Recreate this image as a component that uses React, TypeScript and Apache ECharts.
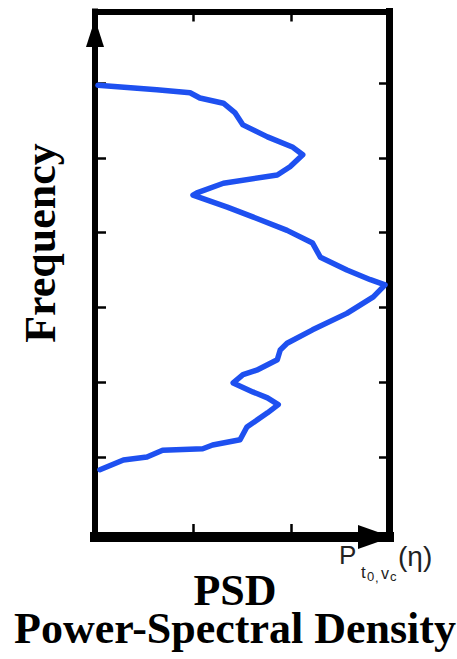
import React, { useEffect, useRef } from "react";
import * as echarts from "echarts";

// PSD (horizontal) and frequency (vertical) samples, top to bottom
const psdValues = [
  0.03, 0.63, 0.97, 1.07, 1.31, 1.43, 1.51, 1.76, 2.02, 2.12, 1.99, 1.86, 1.31, 1.04, 1.0,
  1.35, 1.61, 1.96, 2.22, 2.3, 2.57, 2.81, 2.96, 2.84, 2.57, 2.22, 1.96, 1.89, 1.86, 1.65,
  1.51, 1.41, 1.61, 1.76, 1.87, 1.76, 1.55, 1.48, 1.2, 1.1, 0.69, 0.53, 0.29, 0.05,
];
const freqValues = [
  5.97, 5.91, 5.87, 5.8, 5.73, 5.6, 5.44, 5.28, 5.14, 5.04, 4.88, 4.77, 4.66, 4.53, 4.5,
  4.34, 4.21, 4.03, 3.86, 3.67, 3.5, 3.37, 3.3, 3.14, 2.92, 2.7, 2.52, 2.43, 2.3, 2.16,
  2.1, 1.99, 1.87, 1.79, 1.7, 1.59, 1.4, 1.23, 1.16, 1.11, 1.09, 1.0, 0.96, 0.83,
];
const freqTickValues = [1, 2, 3, 4, 5, 6];
const psdTickInterval = 1;
const psdRange = [0, 3];
const freqRange = [-0.07, 6.956];

const yLabel = "Frequency";
const xTitle = "PSD";
const xSubtitle = "Power-Spectral Density";

export default function App() {
  const ref = useRef<HTMLDivElement>(null);
  useEffect(() => {
    if (!ref.current) return;
    const chart = echarts.init(ref.current, undefined, { renderer: "svg" });
    const black = "#000";
    const serif = "'Liberation Serif', 'Times New Roman', serif";
    const sans = "'Liberation Sans', Arial, sans-serif";
    const mkTick = (length: number) => ({ show: true, inside: true, length, lineStyle: { color: black, width: 2.5 } });
    const xBase = {
      type: "value" as const,
      min: psdRange[0],
      max: psdRange[1],
      interval: psdTickInterval,
      axisLabel: { show: false },
      splitLine: { show: false },
    };
    const yBase = {
      type: "value" as const,
      min: freqRange[0],
      max: freqRange[1],
      axisLabel: { show: false },
      splitLine: { show: false },
    };
    const data = psdValues.map((x, i) => [x, freqValues[i]]);
    const small = (text: string, x: number, y: number, size: number) => ({
      type: "text",
      x,
      y,
      style: { text, font: `${size}px ${sans}`, fill: "#222", textAlign: "left", textVerticalAlign: "middle" },
    });
    chart.setOption({
      animation: false,
      backgroundColor: "#fff",
      grid: { left: 95, right: 68, top: 11.5, bottom: 122 },
      xAxis: [
        {
          ...xBase,
          position: "bottom",
          axisTick: mkTick(13),
          axisLine: {
            show: true,
            onZero: false,
            lineStyle: { color: black, width: 10, cap: "square" },
            symbol: ["none", "triangle"],
            symbolSize: [24, 34],
            symbolOffset: [0, -14],
          },
        },
        {
          ...xBase,
          position: "top",
          axisTick: mkTick(10),
          axisLine: { show: true, onZero: false, lineStyle: { color: black, width: 6, cap: "square" } },
        },
      ],
      yAxis: [
        {
          ...yBase,
          position: "left",
          axisTick: { ...mkTick(11), customValues: freqTickValues },
          axisLine: {
            show: true,
            onZero: false,
            lineStyle: { color: black, width: 6, cap: "square" },
            symbol: ["none", "triangle"],
            symbolSize: [18, 28],
            symbolOffset: [0, -21.5],
          },
        },
        {
          ...yBase,
          position: "right",
          axisTick: { ...mkTick(10), customValues: freqTickValues },
          axisLine: { show: true, onZero: false, lineStyle: { color: black, width: 7, cap: "square" } },
        },
      ],
      series: [
        {
          type: "line",
          xAxisIndex: 0,
          yAxisIndex: 0,
          data,
          symbol: "none",
          smooth: false,
          lineStyle: { color: "#1e50f0", width: 5.5, join: "round", cap: "round" },
          z: 1,
        },
      ],
      graphic: [
        {
          type: "text",
          x: 40,
          y: 243,
          rotation: Math.PI / 2,
          style: {
            text: yLabel,
            font: `bold 44px ${serif}`,
            fill: black,
            textAlign: "center",
            textVerticalAlign: "middle",
          },
        },
        {
          type: "text",
          x: 235,
          y: 609,
          style: {
            text: `${xTitle}\n${xSubtitle}`,
            font: `bold 44px ${serif}`,
            lineHeight: 38,
            fill: black,
            textAlign: "center",
            textVerticalAlign: "middle",
          },
        },
        small("P", 339, 554.5, 26),
        small("t", 361, 572, 17),
        small("0", 367, 576, 13),
        small(",", 375, 577, 13),
        small("v", 381, 573, 16),
        small("c", 390, 576, 13),
        small("(η)", 398, 556, 28),
      ],
    });
    return () => chart.dispose();
  }, []);
  return (
    <div
      ref={ref}
      style={{ position: "fixed", left: 0, top: 0, width: 457, height: 659, background: "#fff" }}
    />
  );
}
